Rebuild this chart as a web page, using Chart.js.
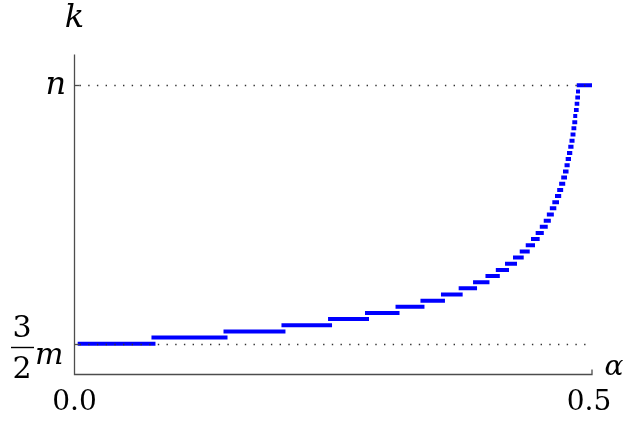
<!DOCTYPE html>
<html>
<head>
<meta charset="utf-8">
<script src="https://cdn.jsdelivr.net/npm/chart.js@4.4.0/dist/chart.umd.min.js"></script>
<style>
    html, body { margin: 0; padding: 0; background: #ffffff; }
    #wrap { width: 632px; height: 424px; }
</style>
</head>
<body>
<div id="wrap"><canvas id="chart" width="632" height="424"></canvas></div>
<script>
// step breakpoints along alpha (start of first step, then each jump, then the end)
const alphaBreaks = [
    0.005, 0.0763, 0.1459, 0.2019, 0.2469, 0.2826, 0.3121, 0.3362, 0.3560, 0.3731,
    0.3870, 0.3990, 0.4090, 0.4179, 0.4256, 0.4321, 0.4379, 0.4430, 0.4475, 0.4515,
    0.4553, 0.4583, 0.4612, 0.4636, 0.4662, 0.4683, 0.4702, 0.4722, 0.4739, 0.4754,
    0.4765, 0.4778, 0.4790, 0.4802, 0.4812, 0.4821, 0.4829, 0.4838, 0.4845, 0.4852,
    0.4858, 0.4865, 0.4872, 0.5
];
// k level of each step (m = 84, n = 168)
const kLevels = [
    126, 127, 128, 129, 130, 131, 132, 133, 134, 135,
    136, 137, 138, 139, 140, 141, 142, 143, 144, 145,
    146, 147, 148, 149, 150, 151, 152, 153, 154, 155,
    156, 157, 158, 159, 160, 161, 162, 163, 164, 165,
    166, 167, 168
];
const xTickValues = [0, 0.5];
const xTickLabels = ["0.0", "0.5"];
const yTickValues = [126, 168];   // 3/2 m and n

const LINE_COLOR = "#0000ff";
const AXIS_COLOR = "#4d4d4d";
const SERIF = '"DejaVu Serif", "Liberation Serif", serif';

var stepPoints = [];
for (let i = 0; i < kLevels.length; i++) {
    stepPoints.push({ x: alphaBreaks[i], y: kLevels[i] });
    stepPoints.push({ x: alphaBreaks[i + 1], y: kLevels[i] });
    stepPoints.push({ x: alphaBreaks[i + 1], y: null });
}

// axes, dotted guides and the LaTeX-like labels
const axesPlugin = {
    id: "mathAxes",
    afterDatasetsDraw: (chart) => {
        const { ctx, chartArea: { left, right, top, bottom }, scales: { x, y } } = chart;
        ctx.save();

        // dotted guides
        ctx.strokeStyle = "#333333";
        ctx.lineWidth = 1.3;
        ctx.setLineDash([1.4, 7.3]);
        yTickValues.forEach(v => {
            const py = Math.round(y.getPixelForValue(v)) + 0.5;
            ctx.beginPath();
            ctx.moveTo(left + 5, py);
            ctx.lineTo(right, py);
            ctx.stroke();
        });
        ctx.setLineDash([]);

        // axis lines
        ctx.strokeStyle = AXIS_COLOR;
        ctx.lineWidth = 1.3;
        ctx.beginPath();
        ctx.moveTo(left, top);
        ctx.lineTo(left, bottom);
        ctx.lineTo(right, bottom);
        ctx.lineTo(right, bottom - 5);
        ctx.stroke();
        yTickValues.forEach(v => {
            const py = Math.round(y.getPixelForValue(v)) + 0.5;
            ctx.beginPath();
            ctx.moveTo(left, py);
            ctx.lineTo(left + 5, py);
            ctx.stroke();
        });

        ctx.fillStyle = "#000000";

        // x tick labels
        ctx.font = "28px " + SERIF;
        ctx.textAlign = "center";
        ctx.textBaseline = "alphabetic";
        xTickValues.forEach((v, i) => {
            const px = x.getPixelForValue(v) - (i === 1 ? 3 : 0);
            ctx.fillText(xTickLabels[i], px, 410);
        });

        // axis titles
        ctx.font = "italic 32px " + SERIF;
        ctx.fillText("k", left, 27);
        ctx.font = "italic 28px " + SERIF;
        ctx.fillText("\u03b1", right + 22, 375);

        // n
        ctx.textAlign = "right";
        ctx.font = "italic 32px " + SERIF;
        ctx.fillText("n", 66, 94);

        // 3/2 m
        const mY = Math.round(y.getPixelForValue(yTickValues[0])) + 0.5;
        ctx.textAlign = "center";
        ctx.font = "30px " + SERIF;
        ctx.fillText("3", 22, 337);
        ctx.fillText("2", 22, 378);
        ctx.strokeStyle = "#000000";
        ctx.lineWidth = 1.4;
        ctx.beginPath();
        ctx.moveTo(11, mY + 3);
        ctx.lineTo(34, mY + 3);
        ctx.stroke();
        ctx.textAlign = "left";
        ctx.font = "italic 30px " + SERIF;
        ctx.fillText("m", 35, 364);

        ctx.restore();
    }
};

new Chart(document.getElementById("chart").getContext("2d"), {
    type: "scatter",
    data: {
        datasets: [{
            data: stepPoints,
            showLine: true,
            spanGaps: false,
            borderColor: LINE_COLOR,
            backgroundColor: LINE_COLOR,
            borderWidth: 4,
            borderCapStyle: "square",
            pointRadius: 0,
            tension: 0
        }]
    },
    options: {
        responsive: false,
        animation: false,
        layout: {
            padding: { left: 74.5, right: 40, top: 54.5, bottom: 49.5 }
        },
        scales: {
            x: { type: "linear", min: 0, max: 0.5, display: false },
            y: { type: "linear", min: 121, max: 173, display: false }
        },
        plugins: {
            legend: { display: false },
            tooltip: { enabled: false }
        }
    },
    plugins: [axesPlugin]
});
</script>
</body>
</html>
